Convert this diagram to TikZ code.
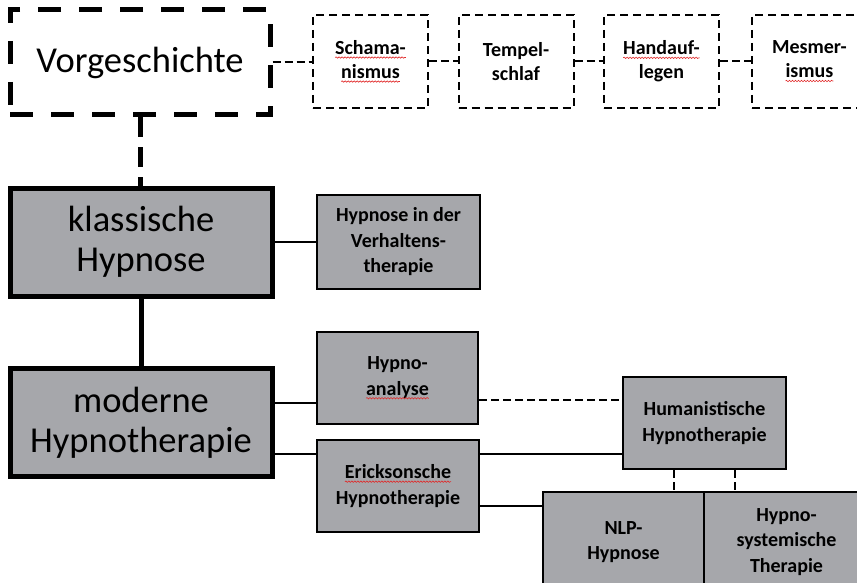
\documentclass[tikz,border=0pt]{standalone}
\usepackage{fontspec}
\setmainfont{Carlito}
\usetikzlibrary{calc,decorations.pathmorphing}

\definecolor{boxgray}{RGB}{166,167,171}
\definecolor{spellred}{RGB}{225,40,40}

% red wavy underline for flagged words
\newcommand\spellwave[1]{\tikz[baseline=(sw.base)]{%
  \node[draw=none, fill=none, inner sep=0pt, outer sep=0pt, minimum width=0pt,
        minimum height=0pt] (sw) {#1};
  \draw[spellred, solid, line width=0.6pt, decorate,
        decoration={snake, amplitude=0.7pt, segment length=3pt}]
    ([yshift=-3pt]sw.base west) -- ([yshift=-3pt]sw.base east);}}

\tikzset{
  x=1pt, y=-1pt,
  bigbox/.style={draw, line width=5pt, fill=boxgray, inner sep=0pt, align=center,
    minimum width=262, minimum height=108, font=\fontsize{36.5}{40}\selectfont},
  prebox/.style={draw, line width=5pt, dash pattern=on 23pt off 18pt, fill=white,
    inner sep=0pt, align=center, minimum width=260, minimum height=105,
    font=\fontsize{36.5}{40}\selectfont},
  subbox/.style={draw, line width=2pt, fill=boxgray, inner sep=0pt, align=center,
    minimum height=92, font=\bfseries\fontsize{20}{25.5}\selectfont},
  rootbox/.style={draw, line width=2pt, dash pattern=on 8pt off 5pt, fill=white,
    inner sep=0pt, align=center, minimum width=115, minimum height=93,
    font=\bfseries\fontsize{20}{24}\selectfont},
  link/.style={line width=2pt},
  dashlink/.style={line width=2pt, dash pattern=on 8pt off 4pt},
  heavylink/.style={line width=5pt},
  heavydash/.style={line width=5pt, dash pattern=on 20pt off 10pt},
}

\begin{document}
\begin{tikzpicture}
\useasboundingbox (0,0) rectangle (857,583);
\clip (0,0) rectangle (857,583);
\fill[white] (0,0) rectangle (857,583);

% prehistory row
\node[prebox] (vg) at (140,62.5) {Vorgeschichte};
\node[rootbox] (sch) at (370.5,61.5) {\spellwave{Schama-}\\\spellwave{nismus}};
\node[rootbox] (tem) at (516,61.5) {Tempel-\\schlaf};
\node[rootbox] (han) at (661.5,61.5) {\spellwave{Handauf-}\\legen};
\node[rootbox] (mes) at (809.5,61.5) {Mesmer-\\\spellwave{ismus}};

% main line
\node[bigbox] (kla) at (141,242) {klassische\\Hypnose};
\node[bigbox] (mod) at (141,422.5) {moderne\\Hypnotherapie};

% branches
\node[subbox, minimum width=163, minimum height=94] (vhv) at (398.5,242) {Hypnose in der\\Verhaltens-\\therapie};
\node[subbox, minimum width=161] (ana) at (397.5,378) {Hypno-\\\spellwave{analyse}};
\node[subbox, minimum width=162] (eri) at (398,486) {\spellwave{Ericksonsche}\\Hypnotherapie};
\node[subbox, minimum width=163] (hum) at (704.5,423) {Humanistische\\Hypnotherapie};
\node[subbox, minimum width=161, minimum height=100] (nlp) at (623.5,542) {NLP-\\Hypnose};
\node[subbox, minimum width=165, minimum height=100] (sys) at (786.5,542) {Hypno-\\systemische\\Therapie};

% connectors of the prehistory row
\draw[dashlink] (vg.east) -- (vg.east -| sch.west);
\draw[dashlink] (sch.east) -- (tem.west);
\draw[dashlink] (tem.east) -- (han.west);
\draw[dashlink] (han.east) -- (mes.west);
\draw[heavydash] (vg.south) -- (vg.south |- kla.north);

% main line connectors
\draw[heavylink] (kla.south) -- (kla.south |- mod.north);
\draw[link] (kla.east) -- (kla.east -| vhv.west);
\draw[link] ($(mod.east)+(0,-19.5)$) -- ($(ana.west)+(0,25)$);
\draw[link] ($(mod.east)+(0,31.5)$) -- ($(eri.west)+(0,-32)$);

% right-hand connectors
\draw[dashlink] ($(ana.east)+(0,22)$) -- ($(hum.west)+(0,-23)$);
\draw[link] ($(eri.east)+(0,-32)$) -- ($(hum.west)+(0,31)$);
\draw[link] ($(eri.east)+(0,20)$) -- ($(nlp.west)+(0,-36)$);
\draw[dashlink] ($(hum.south)+(-30.5,0)$) coordinate (hl) -- (hl |- nlp.north);
\draw[dashlink] ($(hum.south)+(30.5,0)$) coordinate (hr) -- (hr |- sys.north);
\end{tikzpicture}
\end{document}
